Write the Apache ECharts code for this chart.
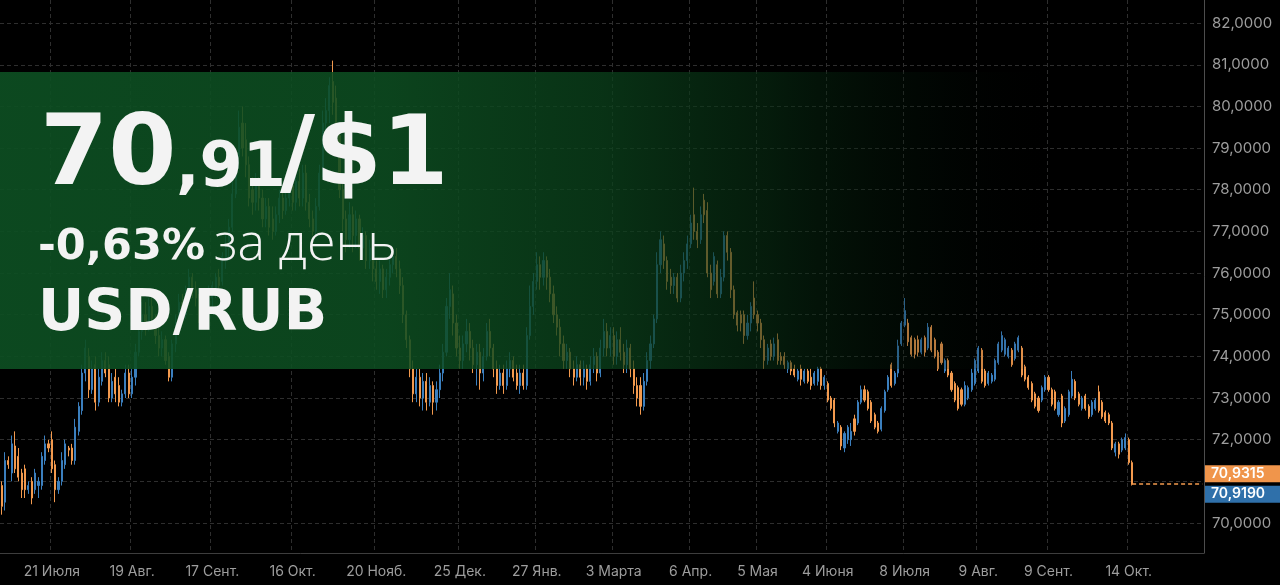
<!DOCTYPE html>
<html><head><meta charset="utf-8">
<script src="https://cdn.jsdelivr.net/npm/echarts@6/dist/echarts.min.js"></script>
<style>html,body{margin:0;padding:0;background:#000;overflow:hidden}#c{width:1280px;height:585px}</style>
</head><body><div id="c"></div>
<script>
// ---- data ----
const tickIndex = [15,39,63,87,112,137,160,183,206,226,247,270,292,313,337];
const tickLabels = ['21 Июля','19 Авг.','17 Сент.','16 Окт.','20 Нояб.','25 Дек.','27 Янв.','3 Марта','6 Апр.','5 Мая','4 Июня','8 Июля','9 Авг.','9 Сент.','14 Окт.'];
const categoryCount = 360;
const yGridValues = [70,71,72,73,74,75,76,77,78,79,80,81,82];
const yLabelValues = [70,72,73,74,75,76,77,78,79,80,81,82];
const askPrice = 70.9315;
const bidPrice = 70.9190;
const headline = ['70', ',91', '/$1'];
const changeText = ['-0,63%', 'за день'];
const pairText = 'USD/RUB';

const opens = [
70.9,70.5,71.5,71.2,71.85,71.6,71.2,71.3,70.8,71.0,
70.8,70.9,70.9,71.5,71.9,72.0,71.4,70.8,71.0,71.4,
71.8,71.8,71.5,72.2,72.7,73.6,74.0,73.2,73.8,72.9,
73.4,73.9,73.8,73.0,73.5,73.3,72.9,73.1,73.6,73.1,
73.5,74.1,74.6,75.0,74.7,75.2,74.9,74.5,74.2,74.4,
74.0,73.5,74.3,74.8,75.3,75.0,75.5,75.9,75.6,75.4,
75.0,75.3,75.0,75.4,75.6,75.9,75.8,76.3,76.6,77.1,
77.9,78.8,79.6,79.2,78.6,78.0,77.7,78.1,77.8,77.3,
77.6,77.3,77.0,77.4,77.8,77.5,77.8,78.1,77.7,78.2,
77.8,78.4,77.7,77.3,77.0,77.6,78.4,79.6,79.9,80.6,
80.2,79.3,78.0,77.3,76.8,77.4,76.9,77.3,76.6,76.9,
76.3,76.6,76.1,75.8,76.1,75.6,75.9,76.2,76.4,76.1,
75.7,75.0,74.4,73.7,73.1,73.5,73.0,73.4,72.9,73.3,
72.9,73.2,73.6,74.1,75.2,75.5,74.8,74.2,73.9,74.3,
74.6,74.2,73.8,74.1,73.6,74.0,74.6,74.2,73.7,73.3,
73.6,73.3,73.7,73.9,73.6,73.3,73.6,73.3,74.5,75.2,
75.8,76.2,75.9,76.3,75.9,75.5,75.0,74.7,74.3,73.9,
74.1,73.7,73.5,73.8,73.5,73.7,73.4,73.8,74.0,73.6,
74.2,74.6,74.2,74.5,74.0,74.4,74.1,73.8,74.2,73.7,
73.3,73.3,72.8,73.4,73.9,74.3,74.9,76.2,76.7,76.3,
75.9,75.7,75.9,75.4,76.0,76.3,76.7,77.4,77.0,76.8,
77.75,77.5,76.0,75.8,76.2,75.5,75.9,76.9,76.5,75.6,
75.05,75.0,75.0,74.5,74.8,75.4,75.0,74.8,74.4,73.9,
74.3,74.0,74.4,74.0,74.0,73.7,73.85,73.7,73.45,73.7,
73.4,73.65,73.5,73.35,73.4,73.7,73.3,73.35,73.0,72.95,
72.2,72.3,71.8,72.0,72.0,72.5,72.4,72.9,73.2,73.15,
72.9,72.6,72.4,72.25,72.7,73.2,73.8,73.35,73.6,74.3,
74.75,74.8,74.45,74.4,74.4,74.1,74.45,74.2,74.7,74.4,
74.1,74.3,73.65,73.9,73.6,73.35,73.25,73.2,72.85,73.0,
73.2,73.35,73.65,74.15,73.65,73.35,73.4,73.45,73.85,74.15,
74.05,74.0,74.15,73.95,74.15,74.2,73.75,73.5,73.35,73.1,
73.0,72.95,73.2,73.5,73.2,73.15,72.6,73.05,72.45,72.6,
73.05,73.4,73.1,72.75,73.05,72.8,72.6,72.75,73.15,72.9,
72.65,72.6,72.4,71.7,71.9,71.75,71.8,72.0,71.45];
const closes = [
70.4,71.5,71.4,71.9,71.3,71.1,70.8,70.8,70.9,70.6,
71.2,71.0,71.6,71.9,71.8,71.3,70.8,71.0,71.5,71.9,
71.75,71.5,72.3,72.8,73.6,74.2,73.2,73.7,72.9,73.5,
73.9,73.6,73.0,73.4,73.1,72.9,73.1,73.6,73.1,73.5,
74.1,74.6,75.0,74.7,75.2,74.9,74.5,74.2,74.4,73.9,
73.5,74.3,74.8,75.3,75.0,75.5,75.9,75.6,75.4,75.0,
75.3,75.0,75.4,75.7,75.9,75.7,76.4,76.6,77.1,77.9,
78.8,79.5,79.0,78.6,77.8,77.7,78.1,77.8,77.3,77.6,
77.1,77.0,77.4,77.8,77.5,77.8,78.1,77.7,78.2,77.8,
78.4,77.7,77.3,77.0,77.6,78.4,79.6,79.9,80.5,80.1,
79.2,78.0,77.3,76.8,77.4,76.9,77.3,76.6,76.9,76.3,
76.6,76.1,75.8,76.1,75.6,75.9,76.2,76.4,76.1,75.7,
75.0,74.4,73.7,73.1,73.5,73.0,73.4,72.9,73.3,72.9,
73.2,73.6,74.1,75.2,75.6,74.8,74.2,73.9,74.3,74.6,
74.2,73.8,74.1,73.6,74.0,74.6,74.2,73.7,73.3,73.6,
73.3,73.7,73.9,73.5,73.3,73.6,73.3,74.5,75.2,75.8,
76.2,75.9,76.3,75.9,75.5,75.0,74.7,74.3,73.9,74.1,
73.7,73.5,73.8,73.5,73.7,73.4,73.8,74.0,73.6,74.2,
74.6,74.2,74.5,74.0,74.4,74.1,73.8,74.2,73.7,73.3,
73.0,72.8,73.4,73.9,74.3,74.9,76.2,76.8,76.3,75.8,
75.7,75.9,75.4,76.0,76.3,76.7,77.2,77.0,76.8,77.4,
77.4,76.0,75.6,76.4,75.5,75.9,76.9,76.5,75.6,75.0,
74.75,74.8,74.5,74.8,75.2,75.0,74.8,74.4,73.9,74.2,
74.0,74.3,73.9,73.9,73.8,73.85,73.65,73.55,73.65,73.45,
73.65,73.4,73.3,73.6,73.7,73.3,73.5,72.95,72.75,72.4,
72.4,71.85,72.15,72.3,72.2,72.2,72.9,73.2,72.95,72.75,
72.45,72.3,72.2,72.75,73.15,73.5,73.3,73.6,74.25,74.8,
75.1,74.35,74.05,74.05,74.1,74.4,74.1,74.7,74.15,74.0,
73.7,73.85,73.9,73.55,73.2,72.95,72.75,72.85,73.3,73.25,
73.6,73.9,74.2,73.4,73.3,73.6,73.55,73.9,74.3,74.5,
74.4,74.2,73.8,74.3,74.45,73.55,73.45,73.25,72.95,72.8,
72.7,73.25,73.5,73.2,72.85,72.75,72.9,72.4,72.75,73.15,
73.45,73.0,72.85,73.0,72.75,72.55,72.9,72.95,72.7,72.55,
72.45,72.4,71.8,71.9,71.65,72.0,72.05,71.45,70.93];
const lows = [
70.2,70.3,71.3,71.0,71.2,71.0,70.6,70.6,70.7,70.45,
70.7,70.6,70.8,71.4,71.7,71.2,70.5,70.7,70.9,71.3,
71.6,71.4,71.4,72.1,72.6,73.4,73.0,73.1,72.7,72.8,
73.3,73.5,72.9,72.9,72.9,72.8,72.8,73.0,73.0,73.0,
73.3,74.0,74.4,74.5,74.6,74.7,74.3,74.0,74.0,73.8,
73.4,73.4,74.1,74.6,74.8,74.9,75.3,75.4,75.2,74.8,
74.9,74.9,74.9,75.2,75.4,75.5,75.7,76.1,76.3,77.0,
77.8,78.5,78.8,78.3,77.6,77.4,77.5,77.5,77.1,77.1,
76.9,76.8,76.9,77.2,77.3,77.4,77.6,77.5,77.5,77.6,
77.6,77.5,77.1,76.9,76.9,77.5,78.3,79.2,79.6,79.8,
78.9,77.8,77.0,76.5,76.6,76.5,76.6,76.3,76.4,76.1,
76.1,75.8,75.6,75.5,75.4,75.4,75.7,76.0,75.9,75.5,
74.8,74.2,73.5,72.9,72.9,72.8,72.7,72.7,72.8,72.6,
72.7,73.0,73.4,74.0,74.9,74.5,74.0,73.7,73.7,74.1,
73.9,73.6,73.3,73.2,73.4,73.9,74.0,73.5,73.1,73.2,
73.1,73.2,73.5,73.4,73.2,73.1,73.2,73.2,74.4,75.0,
75.6,75.6,75.7,75.6,75.3,74.8,74.5,74.0,73.7,73.7,
73.5,73.3,73.4,73.3,73.3,73.2,73.3,73.6,73.4,73.5,
74.0,74.0,74.0,73.8,73.8,73.9,73.6,73.6,73.5,73.1,
72.8,72.6,72.7,73.3,73.7,74.2,74.8,76.0,76.1,75.6,
75.5,75.5,75.3,75.3,75.8,76.1,76.6,76.8,76.6,76.7,
77.2,75.9,75.4,75.7,75.4,75.4,75.8,76.3,75.4,74.9,
74.6,74.6,74.3,74.4,74.6,74.9,74.6,74.2,73.7,73.8,
73.9,73.9,73.8,73.8,73.7,73.6,73.55,73.5,73.4,73.3,
73.35,73.35,73.2,73.3,73.3,73.2,73.2,72.9,72.7,72.3,
72.15,71.75,71.7,71.9,71.85,72.1,72.35,72.85,72.9,72.7,
72.4,72.25,72.15,72.2,72.65,73.15,73.25,73.3,73.5,74.25,
74.7,74.25,74.0,73.95,74.0,74.05,74.0,74.15,74.1,73.95,
73.65,73.8,73.6,73.5,73.15,72.9,72.7,72.8,72.8,72.95,
73.15,73.3,73.6,73.35,73.25,73.3,73.35,73.4,73.8,74.1,
74.0,73.95,73.75,73.9,74.1,73.5,73.4,73.2,72.9,72.75,
72.65,72.9,73.15,73.15,72.8,72.7,72.55,72.3,72.4,72.55,
73.0,72.95,72.8,72.7,72.7,72.5,72.55,72.7,72.65,72.5,
72.4,72.35,71.75,71.6,71.55,71.7,71.75,71.4,70.9];
const highs = [
71.0,71.7,71.6,72.1,72.2,71.8,71.3,71.4,71.0,71.1,
71.3,71.1,71.7,72.1,72.0,72.2,71.5,71.1,71.7,72.0,
71.85,71.9,72.5,72.9,73.8,74.4,74.2,73.9,74.0,73.7,
74.1,74.1,74.0,73.6,73.7,73.5,73.2,73.8,73.8,73.7,
74.3,74.8,75.3,75.3,75.4,75.4,75.0,74.7,74.6,74.5,
74.1,74.4,75.0,75.5,75.5,75.7,76.1,76.0,75.8,75.5,
75.5,75.5,75.7,75.8,76.0,76.1,76.5,76.9,77.3,78.2,
79.0,79.9,80.0,79.6,78.8,78.3,78.4,78.3,78.0,77.8,
77.8,77.6,77.6,78.0,78.0,78.1,78.3,78.3,78.4,78.5,
78.6,78.6,77.9,77.5,77.8,78.6,79.9,80.2,80.7,81.1,
80.5,79.5,78.2,77.5,77.7,77.6,77.5,77.4,77.1,77.0,
76.8,76.7,76.3,76.3,76.2,76.1,76.4,76.6,76.6,76.3,
75.9,75.1,74.5,73.9,73.7,73.7,73.6,73.6,73.5,73.4,
73.4,73.8,74.3,75.4,76.0,75.7,75.0,74.5,74.5,74.9,
74.8,74.4,74.3,74.3,74.2,74.8,74.9,74.3,73.9,73.8,
73.8,73.9,74.1,74.0,73.8,73.8,73.8,74.7,75.7,76.0,
76.5,76.4,76.5,76.4,76.1,75.7,75.2,74.9,74.5,74.3,
74.2,73.9,74.0,73.9,73.9,73.8,74.0,74.2,74.1,74.4,
74.9,74.8,74.7,74.7,74.6,74.7,74.3,74.4,74.3,73.9,
73.5,73.5,73.6,74.1,74.5,75.0,76.5,77.0,76.9,76.4,
76.1,76.0,76.0,76.2,76.5,76.9,77.4,78.05,77.2,77.6,
77.9,77.7,76.2,76.5,76.3,76.1,77.0,77.0,76.6,75.7,
75.1,75.1,75.1,75.0,75.3,75.8,75.1,74.9,74.5,74.3,
74.4,74.45,74.55,74.1,74.1,73.9,73.9,73.8,73.7,73.8,
73.7,73.7,73.7,73.65,73.75,73.75,73.55,73.4,73.05,73.0,
72.45,72.35,72.2,72.35,72.4,72.6,72.95,73.3,73.3,73.2,
72.95,72.65,72.45,72.8,73.2,73.55,73.85,73.65,74.4,74.85,
75.4,74.9,74.5,74.45,74.5,74.45,74.5,74.8,74.75,74.45,
74.15,74.35,73.95,73.95,73.65,73.4,73.3,73.25,73.4,73.3,
73.7,73.95,74.25,74.2,73.7,73.65,73.6,73.95,74.35,74.6,
74.45,74.25,74.2,74.35,74.5,74.25,73.8,73.55,73.4,73.15,
73.05,73.3,73.55,73.55,73.25,73.2,72.95,73.1,72.8,73.2,
73.65,73.45,73.15,73.05,73.1,72.85,72.95,73.0,73.3,72.95,
72.7,72.65,72.45,71.95,71.95,72.05,72.15,72.05,71.5];

// ---- build ----
const UP = '#3b7fbe', DOWN = '#f39a4e';
const labelMap = {};
tickIndex.forEach((k, j) => { labelMap[k] = tickLabels[j]; });
const isTick = (idx) => labelMap[idx] !== undefined;
const categories = Array.from({length: categoryCount}, (_, i) => String(i));
const ohlc = opens.map((o, i) => [o, closes[i], lows[i], highs[i]]);
const fmt4 = v => v.toFixed(4).replace('.', ',');

const chart = echarts.init(document.getElementById('c'), null, {renderer: 'canvas'});
chart.setOption({
  backgroundColor: '#000',
  animation: false,
  grid: {left: 0, right: 76, top: 0, bottom: 32},
  xAxis: {
    type: 'category', data: categories, boundaryGap: true,
    axisLine: {show: true, lineStyle: {color: '#3d3d3d', width: 1}},
    axisTick: {show: false},
    axisLabel: {interval: (i) => isTick(i), formatter: (v, i) => labelMap[i] || '',
      color: '#9d9d9d', fontSize: 14, fontFamily: 'Inter', margin: 12},
    splitLine: {show: true, interval: (i) => isTick(i), lineStyle: {color: '#2e2e2e', type: [4, 3], width: 1}}
  },
  yAxis: {
    type: 'value', position: 'right', min: 69.28, max: 82.555, splitNumber: 13,
    axisLine: {show: true, lineStyle: {color: '#4d4d4d'}},
    axisTick: {show: false, customValues: yGridValues},
    axisLabel: {customValues: yLabelValues, formatter: fmt4, color: '#9d9d9d', fontSize: 15,
      fontFamily: 'Inter', margin: 8},
    splitLine: {show: true, lineStyle: {color: '#2e2e2e', type: [4, 3], width: 1}}
  },
  series: [{
    type: 'candlestick', data: ohlc, barWidth: 1.6,
    itemStyle: {color: UP, color0: DOWN, borderColor: UP, borderColor0: DOWN, borderWidth: 1},
    markLine: {
      silent: true, symbol: 'none', label: {show: false},
      lineStyle: {color: DOWN, type: [4, 3], width: 1.5},
      data: [[{coord: [String(ohlc.length - 1), askPrice]}, {coord: [String(categoryCount - 1), askPrice]}]]
    }
  }]
});

const yAsk = chart.convertToPixel({yAxisIndex: 0}, askPrice);
const yBid = chart.convertToPixel({yAxisIndex: 0}, bidPrice);
const white = '#f3f3f3';
function txt(id, text, x, y, font, z) {
  return {type: 'text', id, z: z || 102, silent: true,
    style: {text, x, y, fill: white, font, align: 'left', verticalAlign: 'middle',
      textAlign: 'left', textVerticalAlign: 'middle'}};
}
chart.setOption({
  graphic: [
    {type: 'rect', id: 'panel', z: 100, silent: true,
      shape: {x: 0, y: 72, width: 1204, height: 297},
      style: {fill: new echarts.graphic.LinearGradient(0, 0, 1, 0, [
        {offset: 0, color: 'rgba(13,78,34,0.93)'},
        {offset: 0.32, color: 'rgba(13,77,33,0.88)'},
        {offset: 0.5, color: 'rgba(11,66,28,0.76)'},
        {offset: 0.64, color: 'rgba(8,48,20,0.56)'},
        {offset: 0.77, color: 'rgba(3,24,10,0.26)'},
        {offset: 0.88, color: 'rgba(0,0,0,0)'}
      ])}},
    txt('t1', headline[0], 40, 158.9, 'bold 98px "DejaVu Sans"'),
    txt('t2', headline[1], 176, 169.6, 'bold 62px "DejaVu Sans"'),
    txt('t3', headline[2], 280, 159.5, 'bold 96px "DejaVu Sans"'),
    txt('t4', changeText[0], 38, 247.5, 'bold 43px "DejaVu Sans"'),
    txt('t5', changeText[1], 214, 245.5, '300 52px "Open Sans"'),
    txt('t6', pairText, 38, 315.5, 'bold 57px "DejaVu Sans"'),
    {type: 'rect', id: 'askBox', z: 110, silent: true,
      shape: {x: 1205, y: yAsk - 19, width: 75, height: 17}, style: {fill: '#f0954b'}},
    {type: 'rect', id: 'bidBox', z: 110, silent: true,
      shape: {x: 1205, y: yBid + 1, width: 75, height: 17}, style: {fill: '#2f70aa'}},
    {type: 'text', id: 'askTxt', z: 111, silent: true,
      style: {text: fmt4(askPrice), x: 1211, y: yAsk - 10.5, fill: '#fff', font: '600 14px Inter',
        align: 'left', verticalAlign: 'middle', textAlign: 'left', textVerticalAlign: 'middle'}},
    {type: 'text', id: 'bidTxt', z: 111, silent: true,
      style: {text: fmt4(bidPrice), x: 1211, y: yBid + 9.5, fill: '#fff', font: '600 14px Inter',
        align: 'left', verticalAlign: 'middle', textAlign: 'left', textVerticalAlign: 'middle'}}
  ]
});
</script></body></html>
